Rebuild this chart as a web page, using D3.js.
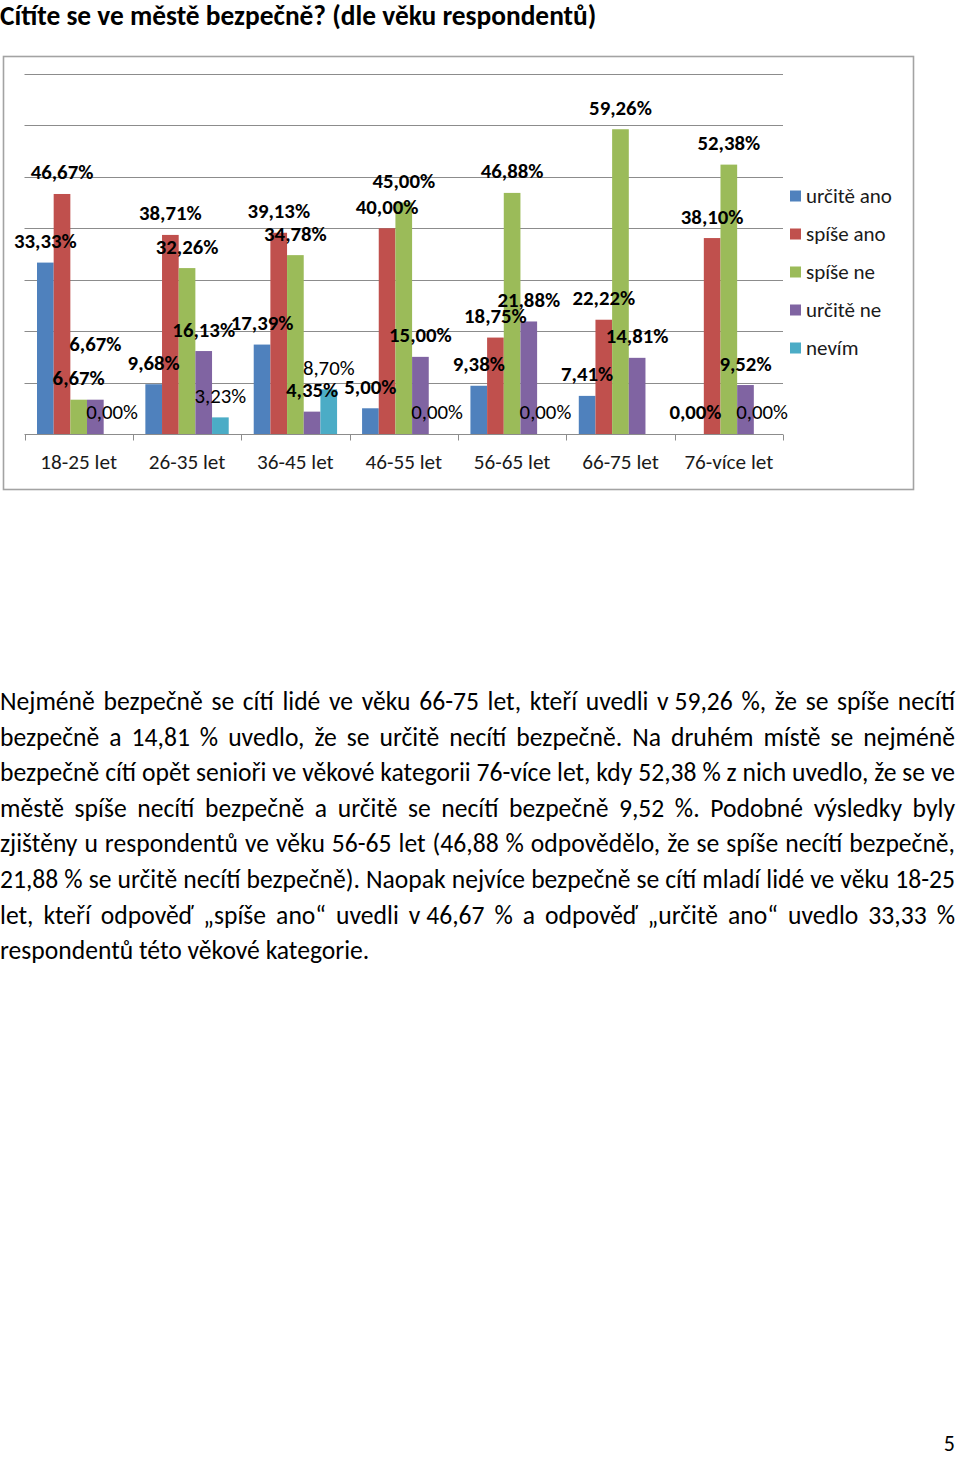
<!DOCTYPE html>
<html>
<head>
<meta charset="utf-8">
<script src="https://cdn.jsdelivr.net/npm/d3@7"></script>
<style>
  html, body { margin: 0; padding: 0; background: #fff; }
  svg { display: block; }
  text { font-family: Carlito, Lato, "Open Sans", sans-serif; }
</style>
</head>
<body>
<svg id="page" width="960" height="1458"></svg>
<script>
// ---------------- DATA ----------------
const title = "Cítíte se ve městě bezpečně? (dle věku respondentů)";
const categories = ["18-25 let", "26-35 let", "36-45 let", "46-55 let", "56-65 let", "66-75 let", "76-více let"];
const seriesNames = ["určitě ano", "spíše ano", "spíše ne", "určitě ne", "nevím"];
const urciteAno = [33.33, 9.68, 17.39, 5.00, 9.38, 7.41, 0.00];
const spiseAno  = [46.67, 38.71, 39.13, 40.00, 18.75, 22.22, 38.10];
const spiseNe   = [6.67, 32.26, 34.78, 45.00, 46.88, 59.26, 52.38];
const urciteNe  = [6.67, 16.13, 4.35, 15.00, 21.88, 14.81, 9.52];
const nevim     = [0.00, 3.23, 8.70, 0.00, 0.00, null, 0.00];
const yTicks = [0, 10, 20, 30, 40, 50, 60, 70];

const paragraphLines = [
  "Nejméně bezpečně se cítí lidé ve věku 66-75 let, kteří uvedli v\u00a059,26 %, že se spíše necítí",
  "bezpečně a 14,81 % uvedlo, že se určitě necítí bezpečně. Na druhém místě se nejméně",
  "bezpečně cítí opět senioři ve věkové kategorii 76-více let, kdy 52,38 % z nich uvedlo, že se ve",
  "městě spíše necítí bezpečně a určitě se necítí bezpečně 9,52 %. Podobné výsledky byly",
  "zjištěny u respondentů ve věku 56-65 let (46,88 % odpovědělo, že se spíše necítí bezpečně,",
  "21,88 % se určitě necítí bezpečně). Naopak nejvíce bezpečně se cítí mladí lidé ve věku 18-25",
  "let, kteří odpověď „spíše ano“ uvedli v\u00a046,67 % a odpověď „určitě ano“ uvedlo 33,33 %",
  "respondentů této věkové kategorie."
];
const pageNumber = "5";

// ---------------- STYLE / LAYOUT ----------------
const colors = ["#4F81BD", "#C0504D", "#9BBB59", "#8064A2", "#4BACC6"];
const seriesValues = [urciteAno, spiseAno, spiseNe, urciteNe, nevim];
// manual label nudge (Excel label moved by hand): [category index, series index, dy]
const labelNudges = [[0, 3, -34]];

const svg = d3.select("#page");

// Title
svg.append("text")
  .attr("x", 0).attr("y", 25)
  .attr("font-size", 27.4).attr("font-weight", 700).attr("fill", "#000")
  .text(title);

// Chart frame
svg.append("rect")
  .attr("x", 3.5).attr("y", 56.5).attr("width", 910).attr("height", 433)
  .attr("fill", "#fff").attr("stroke", "#a3a3a3").attr("stroke-width", 1.6);

const x0 = d3.scaleBand().domain(categories).range([24.5, 783]).paddingInner(0).paddingOuter(0);
const x1 = d3.scaleBand().domain(seriesNames).range([0, x0.bandwidth()]).paddingInner(0).paddingOuter(0.75);
const y = d3.scaleLinear().domain([0, 70]).range([434, 74]);

const plot = svg.append("g");

// gridlines
plot.append("g").selectAll("line").data(yTicks.filter(d => d > 0)).join("line")
  .attr("x1", 24.5).attr("x2", 783)
  .attr("y1", d => Math.round(y(d)) + 0.5).attr("y2", d => Math.round(y(d)) + 0.5)
  .attr("stroke", "#8c8c8c").attr("stroke-width", 1);

// bars
const barData = [];
categories.forEach((c, ci) => {
  seriesNames.forEach((s, si) => {
    const v = seriesValues[si][ci];
    if (v !== null) barData.push({ c, ci, s, si, v });
  });
});

plot.append("g").selectAll("rect").data(barData).join("rect")
  .attr("x", d => x0(d.c) + x1(d.s))
  .attr("width", x1.bandwidth())
  .attr("y", d => y(d.v))
  .attr("height", d => y(0) - y(d.v))
  .attr("fill", d => colors[d.si]);

// baseline axis with ticks at category boundaries
const axisG = plot.append("g").attr("transform", `translate(0,${Math.round(y(0)) + 0.5})`);
axisG.append("line").attr("x1", 24.5).attr("x2", 783).attr("stroke", "#8c8c8c");
const boundaries = categories.map(c => x0(c)).concat([x0.range()[1]]);
axisG.selectAll("line.tk").data(boundaries).join("line").attr("class", "tk")
  .attr("x1", d => Math.round(d) + 0.5).attr("x2", d => Math.round(d) + 0.5)
  .attr("y1", 0).attr("y2", 6).attr("stroke", "#8c8c8c");

const xAxis = d3.axisBottom(x0).tickSize(0).tickPadding(0);
const xg = svg.append("g").attr("transform", "translate(0,434)").call(xAxis);
xg.select(".domain").remove();
xg.selectAll("text")
  .attr("y", 27).attr("dy", "0.36em")
  .attr("font-size", 21.2).attr("font-family", "Carlito, Lato, sans-serif")
  .attr("fill", "#1a1a1a");

// data labels
const fmt = v => v.toFixed(2).replace(".", ",") + "%";
plot.append("g").selectAll("text").data(barData).join("text")
  .attr("x", d => x0(d.c) + x1(d.s) + x1.bandwidth() / 2)
  .attr("y", d => {
    const n = labelNudges.find(k => k[0] === d.ci && k[1] === d.si);
    return y(d.v) - 22 + (n ? n[2] : 0);
  })
  .attr("dy", "0.36em")
  .attr("text-anchor", "middle")
  .attr("font-size", 20.8)
  .attr("font-weight", d => d.si === 4 ? 400 : 700)
  .attr("fill", "#000")
  .text(d => fmt(d.v));

// legend
const legend = svg.append("g").selectAll("g").data(seriesNames).join("g")
  .attr("transform", (d, i) => `translate(790,${196 + i * 38})`);
legend.append("rect").attr("x", 0).attr("y", -5.5).attr("width", 11).attr("height", 11)
  .attr("fill", (d, i) => colors[i]);
legend.append("text").attr("x", 16).attr("y", 0).attr("dy", "0.35em")
  .attr("font-size", 21).attr("fill", "#1a1a1a").text(d => d);

// paragraph (justified)
const pg = svg.append("g");
const W = 955, lineH = 35.6, base0 = 710;
// size the font so the tightest line (line 3) fits with natural spacing
const probe = pg.append("text").attr("font-size", 20).text(paragraphLines[2]);
const fs = 20 * (W - 1) / probe.node().getComputedTextLength();
probe.remove();
paragraphLines.forEach((line, li) => {
  const yy = base0 + li * lineH;
  const words = line.split(" ");
  const els = words.map(w => pg.append("text").attr("y", yy).attr("font-size", fs).attr("fill", "#000").text(w));
  const widths = els.map(e => e.node().getComputedTextLength());
  const total = d3.sum(widths);
  const justify = li < paragraphLines.length - 1;
  const gap = justify ? (W - total) / (words.length - 1) : fs * 0.226;
  let xx = 0;
  els.forEach((e, i) => { e.attr("x", xx); xx += widths[i] + gap; });
});

// page number
svg.append("text").attr("x", 955).attr("y", 1451).attr("text-anchor", "end")
  .attr("font-size", 22).attr("fill", "#000").text(pageNumber);
</script>
</body>
</html>
